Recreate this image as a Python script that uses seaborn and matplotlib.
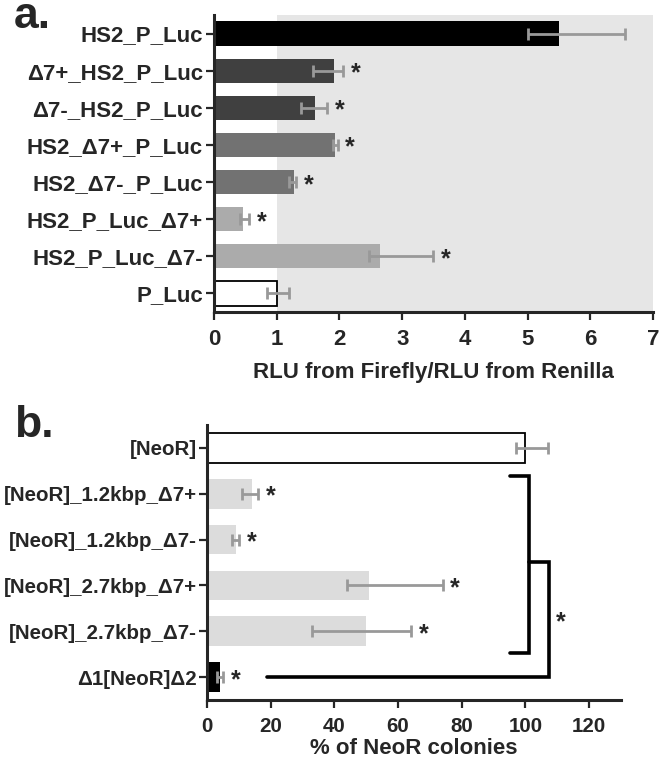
import numpy as np
import matplotlib
matplotlib.use("Agg")
import matplotlib.pyplot as plt
import seaborn as sns

# panel a data
a_labels = ['HS2_P_Luc', 'Δ7+_HS2_P_Luc', 'Δ7-_HS2_P_Luc', 'HS2_Δ7+_P_Luc',
            'HS2_Δ7-_P_Luc', 'HS2_P_Luc_Δ7+', 'HS2_P_Luc_Δ7-', 'P_Luc']
a_values = [5.5, 1.91, 1.61, 1.93, 1.27, 0.46, 2.65, 1.0]
a_low = [5.0, 1.58, 1.38, 1.89, 1.19, 0.41, 2.47, 0.85]
a_high = [6.55, 2.06, 1.80, 1.97, 1.31, 0.56, 3.49, 1.20]
a_colors = ['#000000', '#404040', '#404040', '#727272', '#727272', '#ababab', '#ababab', '#ffffff']
a_stars = [False, True, True, True, True, True, True, False]

# panel b data
b_labels = ['[NeoR]', '[NeoR]_1.2kbp_Δ7+', '[NeoR]_1.2kbp_Δ7-', '[NeoR]_2.7kbp_Δ7+',
            '[NeoR]_2.7kbp_Δ7-', 'Δ1[NeoR]Δ2']
b_values = [100, 14, 9, 51, 50, 4]
b_low = [97, 11, 8, 44, 33, 3]
b_high = [107, 16, 10, 74, 64, 5]
b_colors = ['#ffffff', '#dcdcdc', '#dcdcdc', '#dcdcdc', '#dcdcdc', '#000000']
b_stars = [False, True, True, True, True, True]

sns.set_style('ticks')
plt.rcParams['font.family'] = ['Liberation Sans', 'DejaVu Sans']
plt.rcParams['font.weight'] = 'bold'
plt.rcParams['axes.labelweight'] = 'bold'
plt.rcParams['font.size'] = 15

fig = plt.figure(figsize=(6.59, 7.62), dpi=100)
ax_a = fig.add_axes([214/659, 1-312/762, (653-214)/659, (312-15)/762])
ax_b = fig.add_axes([207/659, 1-700/762, (621-207)/659, (700-425)/762])


def draw_panel(ax, labels, values, low, high, colors, stars, fs):
    sns.barplot(x=values, y=labels, hue=labels, palette=colors, orient='h',
                width=0.65, saturation=1, legend=False, ax=ax, zorder=2)
    bars = [p for c in ax.containers for p in c]
    for p in bars:
        fc = p.get_facecolor()
        if fc[0] > 0.99 and fc[1] > 0.99 and fc[2] > 0.99:
            p.set_edgecolor('black')
            p.set_linewidth(1.3)
        else:
            p.set_linewidth(0)
    vals = np.array(values)
    ypos = np.arange(len(values))
    ax.errorbar(vals, ypos, xerr=[vals - np.array(low), np.array(high) - vals],
                fmt='none', ecolor='#999999', elinewidth=2.0, capsize=4.5,
                capthick=2.0, zorder=3)
    for y, h, s in zip(ypos, high, stars):
        if s:
            ax.annotate('*', (h, y), xytext=(9, -2), textcoords='offset points',
                        ha='center', va='center', fontsize=18, fontweight='bold')
    ax.set_ylim(len(values) - 0.5, -0.5)
    sns.despine(ax=ax)
    for s in ['left', 'bottom']:
        ax.spines[s].set_linewidth(2.2)
    ax.tick_params(axis='both', width=1.6, length=6, labelsize=fs, pad=2)
    ax.tick_params(axis='x', length=6, pad=6)
    ax.set_ylabel('')
    for t in ax.get_yticklabels() + ax.get_xticklabels():
        t.set_fontweight('bold')


# panel a
ax_a.axvspan(1, 7, color='#e6e6e6', zorder=0, lw=0)
draw_panel(ax_a, a_labels, a_values, a_low, a_high, a_colors, a_stars, 16)
ax_a.set_xlim(0, 7)
ax_a.set_xticks(range(0, 8))
ax_a.set_xlabel('RLU from Firefly/RLU from Renilla', fontsize=16, labelpad=9)

# panel b
draw_panel(ax_b, b_labels, b_values, b_low, b_high, b_colors, b_stars, 14.8)
ax_b.tick_params(axis='y', pad=1.5)
ax_b.set_xlim(0, 130)
ax_b.set_xticks(range(0, 121, 20))
ax_b.set_xlabel('% of NeoR colonies', fontsize=16, labelpad=2)

# significance brackets
lw = 2.6
ax_b.plot([95, 101, 101, 95], [0.62, 0.62, 4.47, 4.47], color='black', lw=lw,
          clip_on=False, solid_joinstyle='miter', zorder=4)
ax_b.plot([101, 107.5, 107.5, 18.8], [2.49, 2.49, 5.0, 5.0], color='black', lw=lw,
          clip_on=False, solid_joinstyle='miter', zorder=4)
ax_b.annotate('*', (111, 3.75), xytext=(0, -2), textcoords='offset points',
              ha='center', va='center', fontsize=18, fontweight='bold')

fig.text(14/659, 1-28/762, 'a.', fontsize=32, fontweight='bold', va='baseline')
fig.text(14/659, 1-437/762, 'b.', fontsize=32, fontweight='bold', va='baseline')

fig.savefig('out.png', dpi=100)
